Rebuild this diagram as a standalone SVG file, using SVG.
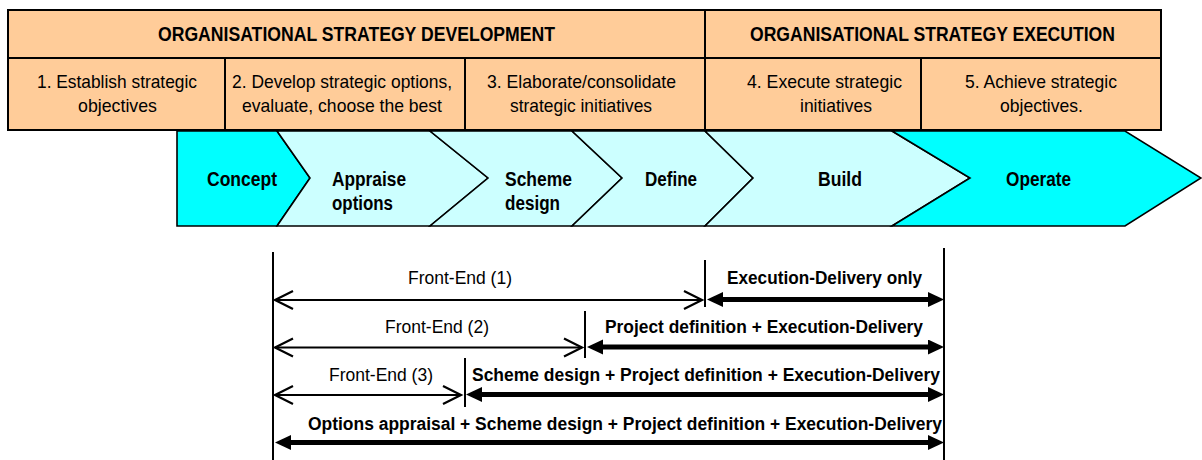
<svg xmlns="http://www.w3.org/2000/svg" width="1202" height="460" viewBox="0 0 1202 460">
  <defs>
    <style>
      .cell { fill: #FFCC99; stroke: #000; stroke-width: 2; }
      .stage { stroke: #000; stroke-width: 1.6; stroke-linejoin: miter; }
      .active { fill: #00FFFF; }
      .plain { fill: #CCFFFF; }
      .hdr { font-family: "Liberation Sans", Arial, sans-serif; font-size: 20px; font-weight: bold; fill: #000; }
      .lbl { font-family: "Liberation Sans", Arial, sans-serif; font-size: 19px; fill: #000; }
      .stg { font-family: "Liberation Sans", Arial, sans-serif; font-size: 19.5px; font-weight: bold; fill: #000; }
      .span { font-family: "Liberation Sans", Arial, sans-serif; font-size: 18px; fill: #000; }
      .spanb { font-family: "Liberation Sans", Arial, sans-serif; font-size: 18px; font-weight: bold; fill: #000; }
      .thin { stroke: #000; stroke-width: 2.2; fill: none; }
      .thick { stroke: #000; stroke-width: 5; fill: none; }
      .rule { stroke: #000; stroke-width: 2; }
    </style>
    <!-- open V head for front-end spans, tip sits on the line end -->
    <marker id="openHead" markerUnits="userSpaceOnUse" markerWidth="24" markerHeight="24" viewBox="-2 -2 24 24" refX="18" refY="9" orient="auto-start-reverse">
      <path d="M0,0 L18,9 L0,18" fill="none" stroke="#000" stroke-width="2.2"/>
    </marker>
    <!-- solid head for delivery spans, base sits on the line end -->
    <marker id="solidHead" markerUnits="userSpaceOnUse" markerWidth="18" markerHeight="16" viewBox="0 0 18 16" refX="0" refY="7.5" orient="auto-start-reverse">
      <path d="M0,0 L16,7.5 L0,15 Z" fill="#000"/>
    </marker>
  </defs>

  <rect width="1202" height="460" fill="#fff"/>

  <!-- strategy header table -->
  <g id="hdr-development">
    <rect class="cell" x="8" y="10" width="697" height="48"/>
    <text class="hdr" x="158" y="40.5" textLength="397" lengthAdjust="spacingAndGlyphs">ORGANISATIONAL STRATEGY DEVELOPMENT</text>
  </g>
  <g id="hdr-execution">
    <rect class="cell" x="705" y="10" width="456" height="48"/>
    <text class="hdr" x="750" y="40.5" textLength="365" lengthAdjust="spacingAndGlyphs">ORGANISATIONAL STRATEGY EXECUTION</text>
  </g>
  <g id="step-1">
    <rect class="cell" x="8" y="58" width="217" height="72"/>
    <text class="lbl" x="37" y="88" textLength="160" lengthAdjust="spacingAndGlyphs">1. Establish strategic</text>
    <text class="lbl" x="78" y="112" textLength="79" lengthAdjust="spacingAndGlyphs">objectives</text>
  </g>
  <g id="step-2">
    <rect class="cell" x="225" y="58" width="240" height="72"/>
    <text class="lbl" x="232" y="88" textLength="220" lengthAdjust="spacingAndGlyphs">2. Develop strategic options,</text>
    <text class="lbl" x="242" y="112" textLength="200" lengthAdjust="spacingAndGlyphs">evaluate, choose the best</text>
  </g>
  <g id="step-3">
    <rect class="cell" x="465" y="58" width="240" height="72"/>
    <text class="lbl" x="487" y="88" textLength="189" lengthAdjust="spacingAndGlyphs">3. Elaborate/consolidate</text>
    <text class="lbl" x="510" y="112" textLength="142" lengthAdjust="spacingAndGlyphs">strategic initiatives</text>
  </g>
  <g id="step-4">
    <rect class="cell" x="705" y="58" width="216" height="72"/>
    <text class="lbl" x="747" y="88" textLength="155" lengthAdjust="spacingAndGlyphs">4. Execute strategic</text>
    <text class="lbl" x="800" y="112" textLength="72" lengthAdjust="spacingAndGlyphs">initiatives</text>
  </g>
  <g id="step-5">
    <rect class="cell" x="921" y="58" width="240" height="72"/>
    <text class="lbl" x="965" y="88" textLength="152" lengthAdjust="spacingAndGlyphs">5. Achieve strategic</text>
    <text class="lbl" x="1000" y="112" textLength="83" lengthAdjust="spacingAndGlyphs">objectives.</text>
  </g>

  <!-- project stage chevrons -->
  <g id="stage-concept">
    <polygon class="stage active" points="177,131 277,131 310,178 277,226 177,226"/>
    <text class="stg" x="207" y="186" textLength="70" lengthAdjust="spacingAndGlyphs">Concept</text>
  </g>
  <g id="stage-appraise">
    <polygon class="stage plain" points="277,131 430,131 488,178 430,226 277,226 310,178"/>
    <text class="stg" x="332" y="186" textLength="74" lengthAdjust="spacingAndGlyphs">Appraise</text>
    <text class="stg" x="332" y="210" textLength="61" lengthAdjust="spacingAndGlyphs">options</text>
  </g>
  <g id="stage-scheme">
    <polygon class="stage plain" points="430,131 572,131 622,178 572,226 430,226 488,178"/>
    <text class="stg" x="505" y="186" textLength="67" lengthAdjust="spacingAndGlyphs">Scheme</text>
    <text class="stg" x="505" y="210" textLength="55" lengthAdjust="spacingAndGlyphs">design</text>
  </g>
  <g id="stage-define">
    <polygon class="stage plain" points="572,131 705,131 753,178 705,226 572,226 622,178"/>
    <text class="stg" x="645" y="186" textLength="52" lengthAdjust="spacingAndGlyphs">Define</text>
  </g>
  <g id="stage-build">
    <polygon class="stage plain" points="705,131 892,131 970,178 892,226 705,226 753,178"/>
    <text class="stg" x="818" y="186" textLength="44" lengthAdjust="spacingAndGlyphs">Build</text>
  </g>
  <g id="stage-operate">
    <polygon class="stage active" points="892,131 1125,131 1201,178 1125,226 892,226 970,178"/>
    <text class="stg" x="1006" y="186" textLength="65" lengthAdjust="spacingAndGlyphs">Operate</text>
  </g>

  <!-- span scale: boundaries and arrows -->
  <g id="connectors">
    <line class="rule" x1="273" y1="252" x2="273" y2="460"/>
    <line class="rule" x1="944" y1="248" x2="944" y2="460"/>
    <line class="rule" x1="705" y1="260" x2="705" y2="307"/>
    <line class="rule" x1="585" y1="311" x2="585" y2="358"/>
    <line class="rule" x1="465" y1="358" x2="465" y2="407"/>

    <line class="thin" x1="275" y1="300" x2="702" y2="300" marker-start="url(#openHead)" marker-end="url(#openHead)"/>
    <line class="thick" x1="723" y1="299.5" x2="928" y2="299.5" marker-start="url(#solidHead)" marker-end="url(#solidHead)"/>

    <line class="thin" x1="275" y1="347.5" x2="582" y2="347.5" marker-start="url(#openHead)" marker-end="url(#openHead)"/>
    <line class="thick" x1="603" y1="347" x2="928" y2="347" marker-start="url(#solidHead)" marker-end="url(#solidHead)"/>

    <line class="thin" x1="275" y1="395" x2="461" y2="395" marker-start="url(#openHead)" marker-end="url(#openHead)"/>
    <line class="thick" x1="482" y1="394.5" x2="928" y2="394.5" marker-start="url(#solidHead)" marker-end="url(#solidHead)"/>

    <line class="thick" x1="291" y1="442.5" x2="928" y2="442.5" marker-start="url(#solidHead)" marker-end="url(#solidHead)"/>
  </g>

  <g id="span-labels">
    <text class="span" x="408" y="284" textLength="104" lengthAdjust="spacingAndGlyphs">Front-End (1)</text>
    <text class="spanb" x="727" y="284" textLength="195" lengthAdjust="spacingAndGlyphs">Execution-Delivery only</text>
    <text class="span" x="385" y="333" textLength="104" lengthAdjust="spacingAndGlyphs">Front-End (2)</text>
    <text class="spanb" x="605" y="333" textLength="318" lengthAdjust="spacingAndGlyphs">Project definition + Execution-Delivery</text>
    <text class="span" x="329" y="381" textLength="104" lengthAdjust="spacingAndGlyphs">Front-End (3)</text>
    <text class="spanb" x="472" y="381" textLength="468" lengthAdjust="spacingAndGlyphs">Scheme design + Project definition + Execution-Delivery</text>
    <text class="spanb" x="308" y="430" textLength="634" lengthAdjust="spacingAndGlyphs">Options appraisal + Scheme design + Project definition + Execution-Delivery</text>
  </g>
</svg>
